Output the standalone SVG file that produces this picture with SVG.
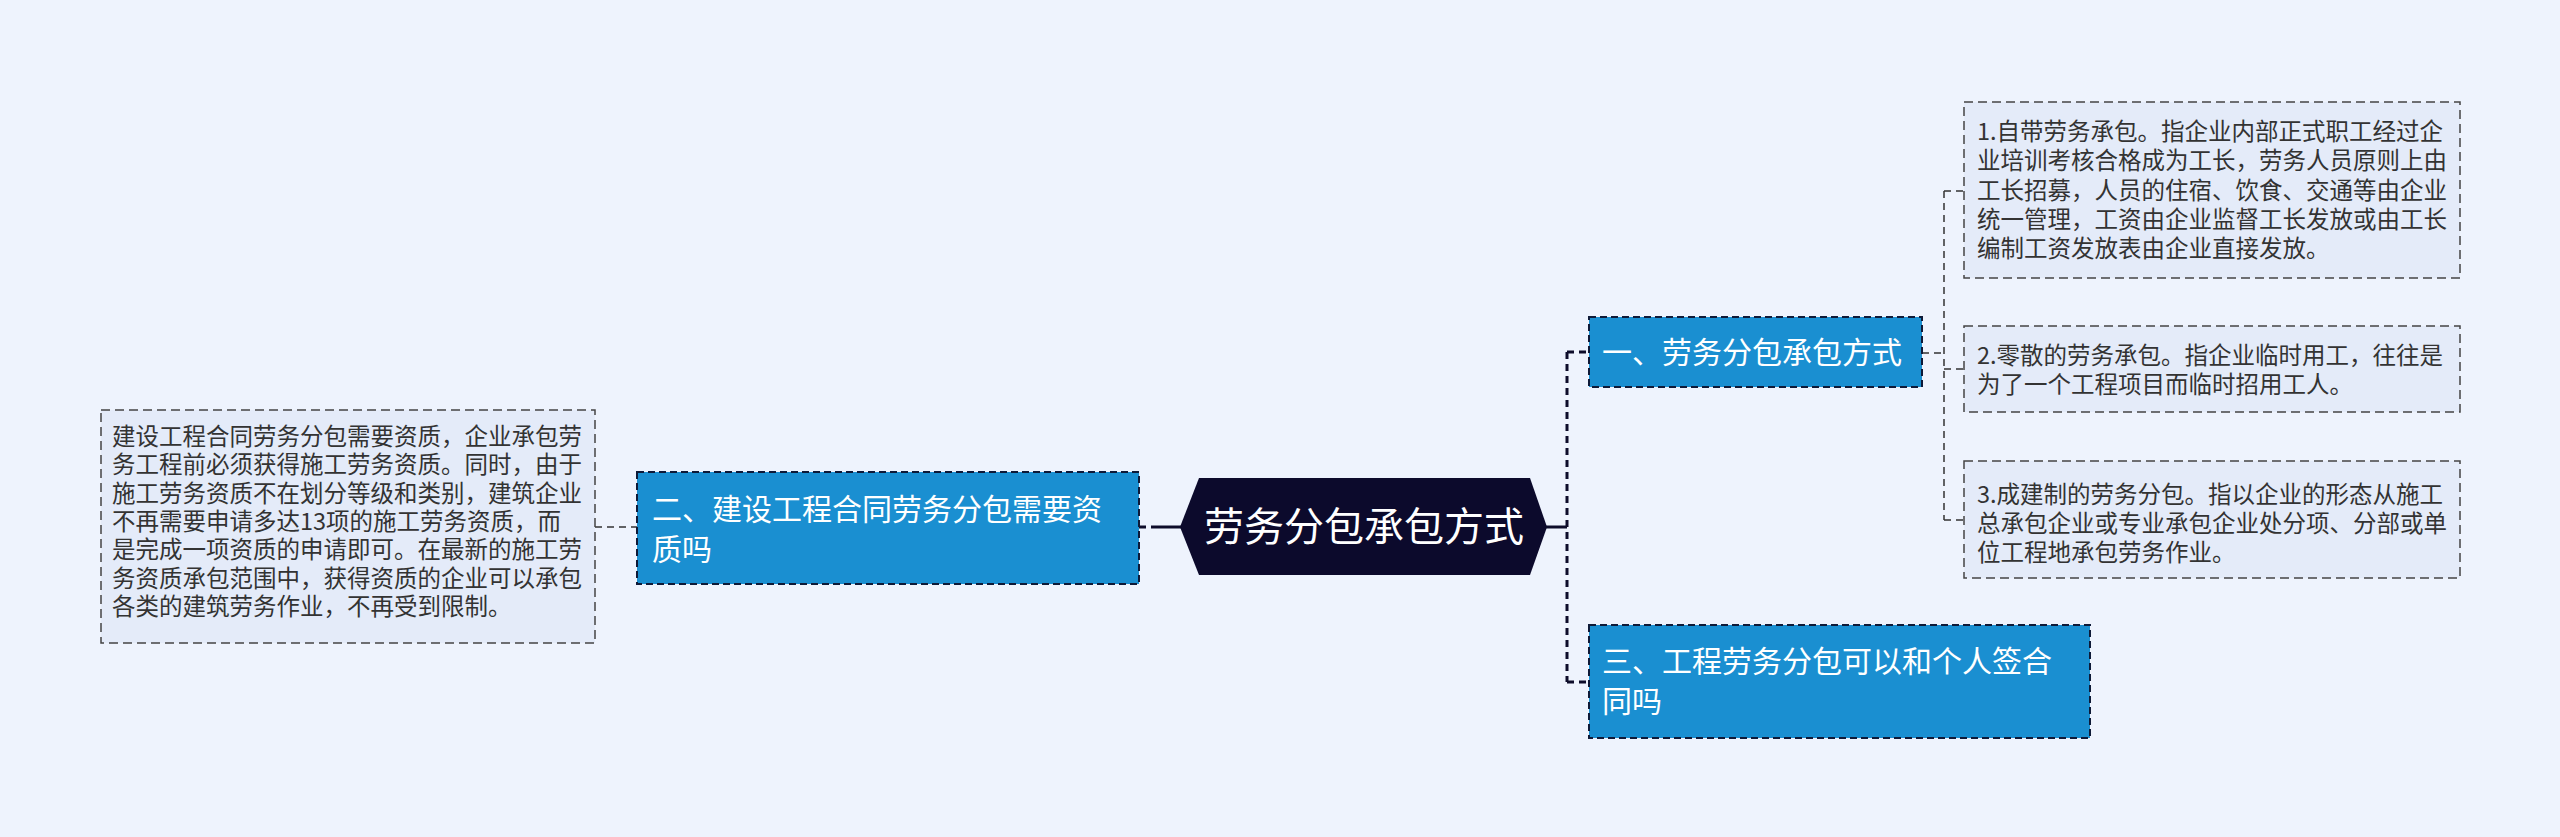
<svg xmlns="http://www.w3.org/2000/svg" width="2560" height="837" viewBox="0 0 2560 837">
<style>
.bg{fill:#eef3fd}
.blue{fill:#1a8fd1;stroke:#0e1a38;stroke-width:2;stroke-dasharray:7 4}
.note{fill:#e4ebf9;stroke:#444;stroke-width:1.5;stroke-dasharray:9 5}
.wt{fill:#ffffff;font-family:"Noto Sans CJK SC","Noto Sans",sans-serif;font-size:30px}
.nt{fill:#333333;font-family:"Noto Sans CJK SC","Noto Sans",sans-serif;font-size:23.5px}
.thick{fill:none;stroke:#0d0c2a;stroke-width:3;stroke-dasharray:7 5}
.thin{fill:none;stroke:#333;stroke-width:1.5;stroke-dasharray:7 5}
</style>
<rect class="bg" x="0" y="0" width="2560" height="837"/>
<g id="connectors">
<path class="thick" d="M1139 527 H1152"/>
<path d="M1152 527 H1181" stroke="#0d0c2a" stroke-width="3" fill="none"/>
<path d="M1546 527 H1567" stroke="#0d0c2a" stroke-width="3" fill="none"/>
<path class="thick" d="M1567 352 V682"/>
<path class="thick" d="M1567 352 H1589"/>
<path class="thick" d="M1567 682 H1589"/>
<path class="thin" d="M595 527 H637"/>
<path class="thin" d="M1922 353 H1944"/>
<path class="thin" d="M1944 191 V520"/>
<path class="thin" d="M1944 191 H1964"/>
<path class="thin" d="M1944 369 H1964"/>
<path class="thin" d="M1944 520 H1964"/>
</g>
<g id="root">
<polygon points="1180,527 1199,478 1530,478 1547,527 1530,575 1199,575" fill="#0c0a2c"/>
<text x="1364" y="541" text-anchor="middle" fill="#ffffff" font-family="'Noto Sans CJK SC','Noto Sans',sans-serif" font-size="40">劳务分包承包方式</text>
</g>
<g id="node-left">
<rect class="blue" x="637" y="472" width="502" height="112"/>
<text class="wt" x="652" y="520">二、建设工程合同劳务分包需要资</text>
<text class="wt" x="652" y="560">质吗</text>
</g>
<g id="note-left">
<rect class="note" x="101" y="410" width="494" height="233"/>
<text class="nt">
<tspan x="112" y="445">建设工程合同劳务分包需要资质，企业承包劳</tspan>
<tspan x="112" y="473.3">务工程前必须获得施工劳务资质。同时，由于</tspan>
<tspan x="112" y="501.6">施工劳务资质不在划分等级和类别，建筑企业</tspan>
<tspan x="112" y="530">不再需要申请多达13项的施工劳务资质，而</tspan>
<tspan x="112" y="558.3">是完成一项资质的申请即可。在最新的施工劳</tspan>
<tspan x="112" y="586.6">务资质承包范围中，获得资质的企业可以承包</tspan>
<tspan x="112" y="615">各类的建筑劳务作业，不再受到限制。</tspan>
</text>
</g>
<g id="node-1">
<rect class="blue" x="1589" y="317" width="333" height="70"/>
<text class="wt" x="1602" y="363">一、劳务分包承包方式</text>
</g>
<g id="node-3">
<rect class="blue" x="1589" y="625" width="501" height="113"/>
<text class="wt" x="1602" y="672">三、工程劳务分包可以和个人签合</text>
<text class="wt" x="1602" y="712">同吗</text>
</g>
<g id="note-1">
<rect class="note" x="1964" y="102" width="496" height="176"/>
<text class="nt">
<tspan x="1977" y="140">1.自带劳务承包。指企业内部正式职工经过企</tspan>
<tspan x="1977" y="169.3">业培训考核合格成为工长，劳务人员原则上由</tspan>
<tspan x="1977" y="198.6">工长招募，人员的住宿、饮食、交通等由企业</tspan>
<tspan x="1977" y="228">统一管理，工资由企业监督工长发放或由工长</tspan>
<tspan x="1977" y="257.3">编制工资发放表由企业直接发放。</tspan>
</text>
</g>
<g id="note-2">
<rect class="note" x="1964" y="326" width="496" height="86"/>
<text class="nt">
<tspan x="1977" y="364">2.零散的劳务承包。指企业临时用工，往往是</tspan>
<tspan x="1977" y="393">为了一个工程项目而临时招用工人。</tspan>
</text>
</g>
<g id="note-3">
<rect class="note" x="1964" y="461" width="496" height="117"/>
<text class="nt">
<tspan x="1977" y="503">3.成建制的劳务分包。指以企业的形态从施工</tspan>
<tspan x="1977" y="532">总承包企业或专业承包企业处分项、分部或单</tspan>
<tspan x="1977" y="561">位工程地承包劳务作业。</tspan>
</text>
</g>
</svg>
